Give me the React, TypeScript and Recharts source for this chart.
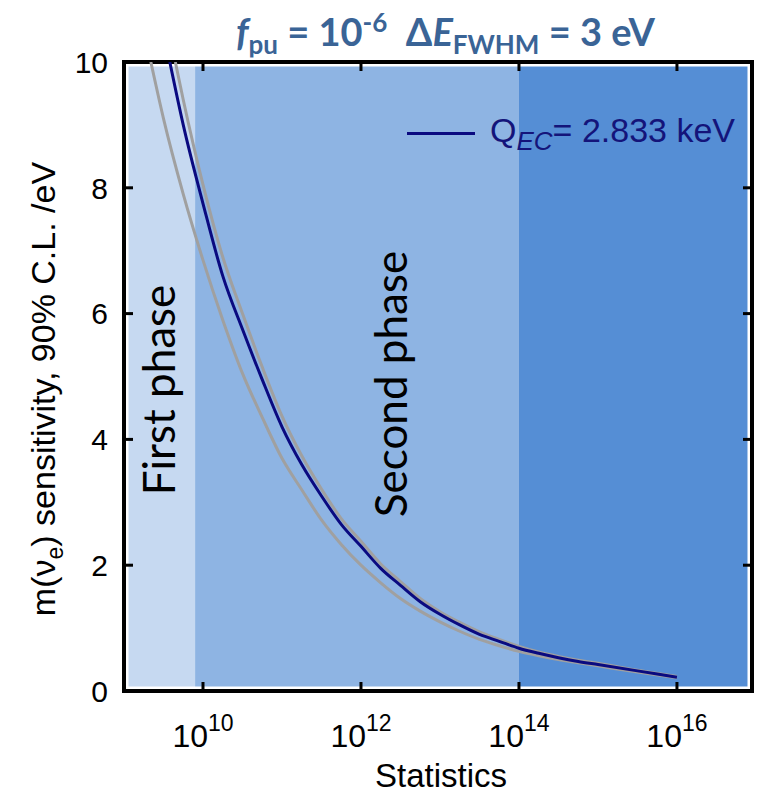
import React from "react";
import { LineChart, Line, XAxis, YAxis, ReferenceArea } from "recharts";

// log10(statistics) for each curve point
const navyX = [9.58, 9.75, 10.0, 10.25, 10.5, 10.75, 11.0, 11.25, 11.5, 11.75, 12.0, 12.25, 12.5, 12.75, 13.0, 13.25, 13.5, 13.75, 14.0, 14.25, 14.5, 14.75, 15.0, 15.5, 16.0];
const navyM = [10.0, 9.0, 7.75, 6.6, 5.75, 4.95, 4.2, 3.6, 3.1, 2.65, 2.3, 1.95, 1.68, 1.42, 1.22, 1.05, 0.9, 0.79, 0.68, 0.6, 0.53, 0.47, 0.42, 0.32, 0.22];

const lowerX = [9.34, 9.5, 9.75, 10.0, 10.25, 10.5, 10.75, 11.0, 11.25, 11.5, 11.75, 12.0, 12.25, 12.5, 12.75, 13.0, 13.25, 13.5, 13.75, 14.0, 14.25, 14.5, 14.75, 15.0, 15.5, 16.0];
const lowerM = [10.0, 9.1, 7.9, 6.85, 5.9, 5.05, 4.35, 3.7, 3.2, 2.72, 2.33, 2.0, 1.72, 1.47, 1.27, 1.1, 0.95, 0.82, 0.72, 0.63, 0.56, 0.5, 0.45, 0.4, 0.3, 0.21];

const upperX = [9.65, 9.75, 10.0, 10.25, 10.5, 10.75, 11.0, 11.25, 11.5, 11.75, 12.0, 12.25, 12.5, 12.75, 13.0, 13.25, 13.5, 13.75, 14.0, 14.25, 14.5, 14.75, 15.0, 15.5, 16.0];
const upperM = [10.0, 9.4, 8.05, 6.9, 6.0, 5.15, 4.37, 3.74, 3.21, 2.74, 2.38, 2.02, 1.74, 1.47, 1.26, 1.09, 0.94, 0.82, 0.71, 0.62, 0.55, 0.49, 0.44, 0.33, 0.23];

const xTicks = [10, 12, 14, 16];
const yTicks = [0, 2, 4, 6, 8, 10];
const phases = [
  { name: "First phase", from: 9, to: 9.9, color: "#C6D9F1" },
  { name: "Second phase", from: 9.9, to: 14, color: "#8EB4E3" },
  { name: "", from: 14, to: 16.95, color: "#558ED5" },
];

const W = 757;
const H = 795;
const PLOT_TOP = 62;
const PLOT_RIGHT = 752;
const FONT = '"Liberation Sans", Arial, sans-serif';

const toRows = (xs: number[], ms: number[]) => xs.map((x, i) => ({ x, m: ms[i] }));

function XTick(props: any) {
  const { x, y, payload } = props;
  return (
    <g>
      <line x1={x} x2={x} y1={y} y2={y - 9} stroke="#000" strokeWidth={3} />
      <line x1={x} x2={x} y1={PLOT_TOP} y2={PLOT_TOP + 9} stroke="#000" strokeWidth={3} />
      <text x={x} y={y + 56} textAnchor="middle" fontFamily={FONT} fontSize={32} fill="#000">
        10<tspan dy={-16} fontSize={23}>{payload.value}</tspan>
      </text>
    </g>
  );
}

function YTick(props: any) {
  const { x, y, payload } = props;
  return (
    <g>
      <line x1={x} x2={x + 9} y1={y} y2={y} stroke="#000" strokeWidth={3} />
      <line x1={PLOT_RIGHT - 9} x2={PLOT_RIGHT} y1={y} y2={y} stroke="#000" strokeWidth={3} />
      <text x={x - 16} y={y} dy="0.36em" textAnchor="end" fontFamily={FONT} fontSize={30} fill="#000">
        {payload.value}
      </text>
    </g>
  );
}

function phaseLabel(text: string, dx: number, cy: number) {
  return (props: any) => {
    const vb = props.viewBox;
    if (!text) return null;
    const bx = vb.x + dx;
    return (
      <text
        x={bx}
        y={cy}
        transform={`rotate(-90 ${bx} ${cy})`}
        textAnchor="middle"
        fontFamily="Lato, sans-serif"
        fontSize={44}
        fill="#000"
      >
        {text}
      </text>
    );
  };
}

const phaseOffsets = [51, 212, 0];
const phaseCenters = [390, 384, 0];

export default function App() {
  return (
    <div style={{ position: "absolute", left: 0, top: 0, width: W, height: H, background: "#fff" }}>
      <div
        style={{
          position: "absolute",
          left: 236,
          top: -4,
          fontFamily: "Lato, sans-serif",
          fontWeight: 700,
          fontSize: 38,
          color: "#3A6496",
          whiteSpace: "nowrap",
          lineHeight: "52px",
        }}
      >
        <i>f</i>
        <sub style={{ fontSize: 26 }}>pu</sub> = 10<sup style={{ fontSize: 26 }}>-6</sup>&nbsp;&nbsp;Δ<i>E</i>
        <sub style={{ fontSize: 26 }}>FWHM</sub> = 3 eV
      </div>

      <LineChart width={W} height={H} margin={{ top: PLOT_TOP, right: W - PLOT_RIGHT, bottom: 0, left: 0 }}>
        {phases.map((p, i) => (
          <ReferenceArea
            key={p.color}
            x1={p.from}
            x2={p.to}
            y1={0}
            y2={10}
            fill={p.color}
            fillOpacity={1}
            stroke="none"
            label={phaseLabel(p.name, phaseOffsets[i], phaseCenters[i])}
          />
        ))}
        <ReferenceArea x1={9} x2={16.95} y1={0} y2={10} fill="none" stroke="#fff" strokeWidth={9} />
        <ReferenceArea x1={9} x2={16.95} y1={0} y2={10} fill="none" stroke="#000" strokeWidth={4} />

        <XAxis
          type="number"
          dataKey="x"
          domain={[9, 16.95]}
          ticks={xTicks}
          height={104}
          axisLine={false}
          tickLine={false}
          tickSize={0}
          tickMargin={0}
          tick={<XTick />}
          label={(props: any) => {
            const vb = props.viewBox;
            return (
              <text x={vb.x + vb.width / 2 + 3} y={787} textAnchor="middle" fontFamily={FONT} fontSize={33} fill="#000">
                Statistics
              </text>
            );
          }}
        />
        <YAxis
          type="number"
          domain={[0, 10]}
          ticks={yTicks}
          allowDataOverflow
          width={124}
          axisLine={false}
          tickLine={false}
          tickSize={0}
          tickMargin={0}
          tick={<YTick />}
          label={() => (
            <text
              x={55}
              y={389}
              transform="rotate(-90 55 389)"
              textAnchor="middle"
              fontFamily={FONT}
              fontSize={34}
              fill="#000"
            >
              m(ν<tspan dy={8} fontSize={23}>e</tspan>
              <tspan dy={-8}>) sensitivity, 90% C.L. /eV</tspan>
            </text>
          )}
        />

        <Line data={toRows(lowerX, lowerM)} dataKey="m" type="monotone" stroke="#A0A0A0" strokeWidth={3} dot={false} isAnimationActive={false} />
        <Line data={toRows(upperX, upperM)} dataKey="m" type="monotone" stroke="#A0A0A0" strokeWidth={3} dot={false} isAnimationActive={false} />
        <Line data={toRows(navyX, navyM)} dataKey="m" type="monotone" stroke="#0A0A80" strokeWidth={3} dot={false} isAnimationActive={false} />
      </LineChart>

      <div
        style={{
          position: "absolute",
          left: 407,
          top: 111,
          display: "flex",
          alignItems: "center",
          fontFamily: FONT,
          fontSize: 34,
          color: "#14147A",
          whiteSpace: "nowrap",
        }}
      >
        <span style={{ display: "inline-block", width: 68, height: 3, background: "#0A0A80", marginRight: 15 }} />
        <span>
          Q<sub style={{ fontSize: 26, fontStyle: "italic" }}>EC</sub>= 2.833 keV
        </span>
      </div>
    </div>
  );
}
